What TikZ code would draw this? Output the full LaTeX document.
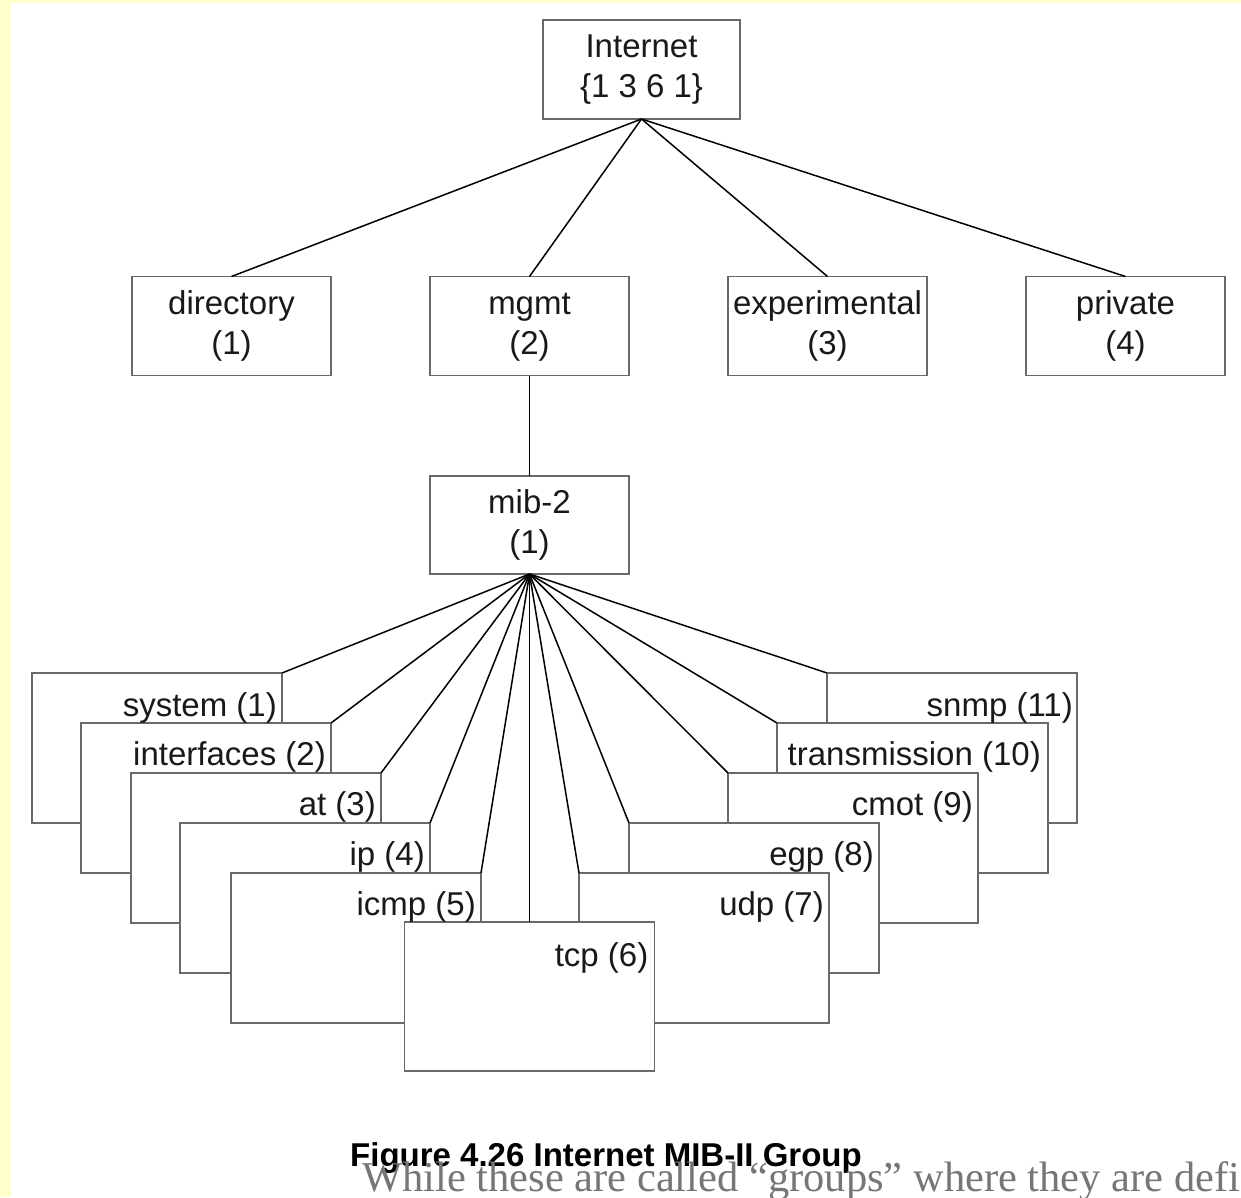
\documentclass[tikz,border=0pt]{standalone}
\usepackage{fontspec}
\newfontfamily\diagfont{Liberation Sans}
\newfontfamily\bodyfont{Liberation Serif}
\definecolor{pagetint}{RGB}{255,255,204}
\definecolor{boxline}{RGB}{105,105,105}
\definecolor{bodygray}{RGB}{118,118,118}
\definecolor{inktext}{RGB}{25,25,25}
\begin{document}
\begin{tikzpicture}[x=1pt,y=-1pt,
  obox/.style={draw=boxline, line width=1.6pt, fill=white, inner sep=0pt, outer sep=0pt,
    minimum width=199pt, minimum height=99pt, align=center, text=inktext,
    font=\diagfont\fontsize{33}{40}\selectfont},
  gbox/.style={draw=boxline, line width=1.6pt, fill=white, inner sep=0pt, outer sep=0pt,
    minimum width=250pt, minimum height=150pt},
  glabel/.style={font=\diagfont\fontsize{33}{38}\selectfont, text=inktext, inner sep=0pt, anchor=east},
  link/.style={draw=black, line width=1.5pt}]

% page background and tinted margins
\useasboundingbox (0,0) rectangle (1241,1197);
\fill[white] (0,0) rectangle (1241,1197);
\fill[pagetint] (0,0) rectangle (11,1197);
\fill[pagetint] (0,0) rectangle (1241,3);

% upper tree
\node[obox, minimum width=197pt] (internet) at (641.5,69.5) {\strut Internet\\\strut\{1 3 6 1\}};
\node[obox] (directory) at (231.5,326) {\strut directory\\\strut(1)};
\node[obox] (mgmt) at (529.5,326) {\strut mgmt\\\strut(2)};
\node[obox] (experimental) at (827.5,326) {\strut experimental\\\strut(3)};
\node[obox] (private) at (1125.5,326) {\strut private\\\strut(4)};
\node[obox, minimum height=98pt] (mib) at (529.5,525) {\strut mib-2\\\strut(1)};

\draw[link] (internet.south) -- (directory.north);
\draw[link] (internet.south) -- (mgmt.north);
\draw[link] (internet.south) -- (experimental.north);
\draw[link] (internet.south) -- (private.north);
\draw[link] (mgmt.south) -- (mib.north);

% MIB-II groups, stacked from back to front
\node[gbox, anchor=north east] (sysB) at (282,673) {};
\node[gbox, anchor=north west] (snmpB) at (827,673) {};
\node[gbox, anchor=north east] (ifB) at (331,723) {};
\node[gbox, anchor=north west, minimum width=271pt] (transB) at (777,723) {};
\node[gbox, anchor=north east] (atB) at (381,773) {};
\node[gbox, anchor=north west] (cmotB) at (728,773) {};
\node[gbox, anchor=north east] (ipB) at (430,823) {};
\node[gbox, anchor=north west] (egpB) at (629,823) {};
\node[gbox, anchor=north east] (icmpB) at (481,873) {};
\node[gbox, anchor=north west] (udpB) at (579,873) {};
\node[gbox, anchor=north, minimum height=149pt] (tcpB) at (529.5,922) {};

\node[glabel] (sysL) at ([xshift=-5pt,yshift=-35pt]sysB.north east) {system (1)};
\node[glabel] (ifL) at ([xshift=-5pt,yshift=-34pt]ifB.north east) {interfaces (2)};
\node[glabel] (atL) at ([xshift=-5pt,yshift=-34pt]atB.north east) {at (3)};
\node[glabel] (ipL) at ([xshift=-5pt,yshift=-34pt]ipB.north east) {ip (4)};
\node[glabel] (icmpL) at ([xshift=-5pt,yshift=-34pt]icmpB.north east) {icmp (5)};
\node[glabel] (tcpL) at ([xshift=-6pt,yshift=-36pt]tcpB.north east) {tcp (6)};
\node[glabel] (udpL) at ([xshift=-5pt,yshift=-34pt]udpB.north east) {udp (7)};
\node[glabel] (egpL) at ([xshift=-5pt,yshift=-34pt]egpB.north east) {egp (8)};
\node[glabel] (cmotL) at ([xshift=-5pt,yshift=-34pt]cmotB.north east) {cmot (9)};
\node[glabel] (transL) at ([xshift=-7pt,yshift=-34pt]transB.north east) {transmission (10)};
\node[glabel] (snmpL) at ([xshift=-4pt,yshift=-35pt]snmpB.north east) {snmp (11)};

% fan of links from mib-2
\draw[link] (mib.south) -- (sysB.north east);
\draw[link] (mib.south) -- (ifB.north east);
\draw[link] (mib.south) -- (atB.north east);
\draw[link] (mib.south) -- (ipB.north east);
\draw[link] (mib.south) -- (icmpB.north east);
\draw[link] (mib.south) -- (tcpB.north);
\draw[link] (mib.south) -- (udpB.north west);
\draw[link] (mib.south) -- (egpB.north west);
\draw[link] (mib.south) -- (cmotB.north west);
\draw[link] (mib.south) -- (transB.north west);
\draw[link] (mib.south) -- (snmpB.north west);

% caption and the running text below it
\node[font=\diagfont\bfseries\fontsize{33}{38}\selectfont, anchor=base west, inner sep=0pt]
  (caption) at (350,1166) {Figure 4.26 Internet MIB-II Group};
\begin{scope}
\clip (0,0) rectangle (1241,1197);
\node[font=\bodyfont\fontsize{42.5}{48}\selectfont, text=bodygray, anchor=base west, inner sep=0pt]
  (bodyline) at (362,1191) {While these are called “groups” where they are defi};
\end{scope}
\end{tikzpicture}
\end{document}
